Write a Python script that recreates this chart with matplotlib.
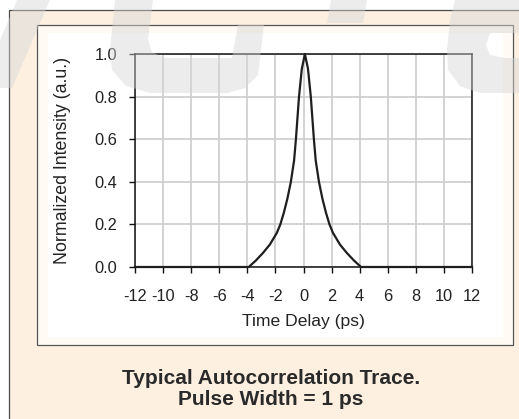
"""
Autocorrelation trace recreation.
"""
import matplotlib
matplotlib.use("Agg")
import matplotlib.pyplot as plt
from matplotlib.patches import Rectangle, Polygon

plt.rcParams["font.family"] = ["Liberation Sans", "DejaVu Sans"]
plt.rcParams["axes.unicode_minus"] = False

# ── Data ──────────────────────────────────────────────────────────────────────
delay_ps = [-12.0, -3.9, -3.4, -2.9, -2.4, -1.9, -1.65, -1.4, -1.15, -0.9,
            -0.67, -0.54, -0.32, -0.12, 0.1, 0.32, 0.52, 0.74, 0.87, 1.1,
            1.35, 1.6, 1.85, 2.1, 2.6, 3.1, 3.6, 4.1, 12.0]
intensity = [0.0, 0.0, 0.03, 0.065, 0.105, 0.16, 0.2, 0.255, 0.32, 0.4,
             0.5, 0.6, 0.8, 0.93, 1.0, 0.93, 0.8, 0.6, 0.5, 0.4,
             0.32, 0.255, 0.2, 0.16, 0.105, 0.065, 0.03, 0.0, 0.0]

x_ticks = list(range(-12, 13, 2))
y_ticks = [0.0, 0.2, 0.4, 0.6, 0.8, 1.0]

title_lines = ["Typical Autocorrelation Trace.", "Pulse Width = 1 ps"]

# ── Figure / frames ───────────────────────────────────────────────────────────
W, H = 519, 419
fig = plt.figure(figsize=(W / 100, H / 100), dpi=100)
fig.patch.set_facecolor("white")


def px_rect(x0, y0, x1, y1, **kw):
    # pixel box (top-left origin) -> figure fraction rectangle
    return Rectangle((x0 / W, 1 - y1 / H), (x1 - x0) / W, (y1 - y0) / H,
                     transform=fig.transFigure, **kw)


fig.patches.append(px_rect(9, 10, 530, 430, facecolor="#fdf0e1",
                           edgecolor="#4a4a4a", linewidth=0.9, zorder=-5))
fig.patches.append(px_rect(37, 25, 513, 345, facecolor="#fffaf3",
                           edgecolor="#555555", linewidth=0.9, zorder=-4))
fig.patches.append(px_rect(48, 33, 503, 337, facecolor="white",
                           edgecolor="none", zorder=-3))

# ── Axes ──────────────────────────────────────────────────────────────────────
ax = fig.add_axes([135 / W, 1 - 267 / H, (472 - 135) / W, (267 - 54) / H])
ax.set_facecolor("none")
ax.plot(delay_ps, intensity, color="#1e1e1e", linewidth=1.6,
        solid_joinstyle="round", clip_on=False, zorder=4)

ax.set_xlim(-12, 12)
ax.set_ylim(0, 1)
ax.set_xticks(x_ticks)
ax.set_yticks(y_ticks)
ax.set_yticklabels([f"{v:.1f}" for v in y_ticks])
ax.grid(True, color="#cccccc", linewidth=1.2)
ax.set_axisbelow(True)
for side in ("left", "bottom", "top", "right"):
    ax.spines[side].set_color("#111111")
    ax.spines[side].set_linewidth(1.1)
ax.tick_params(direction="out", length=4, width=1.0, colors="#111111",
               labelsize=11.8, labelcolor="#222222")
ax.tick_params(axis="x", pad=12)
ax.tick_params(axis="y", pad=9)

ax.set_xlabel("Time Delay (ps)", fontsize=12.6, color="#222222")
ax.set_ylabel("Normalized Intensity (a.u.)", fontsize=12.8, color="#222222")
ax.xaxis.set_label_coords(0.5, -0.22)
ax.yaxis.set_label_coords(-0.19, 0.5)

# ── Caption ───────────────────────────────────────────────────────────────────
fig.text(271 / W, 1 - 378 / H, title_lines[0], ha="center", va="center",
         fontsize=15, fontweight="bold", color="#2a2a2a")
fig.text(271 / W, 1 - 399 / H, title_lines[1], ha="center", va="center",
         fontsize=15, fontweight="bold", color="#2a2a2a")

# ── Faint watermark shapes over everything ────────────────────────────────────
marks = [
    [(17, 0), (50, 0), (12, 88), (0, 88), (0, 40)],
    [(115, 0), (153, 0), (148, 40), (152, 52), (165, 58), (232, 58),
     (238, 25), (264, 25), (258, 75), (245, 88), (228, 93), (150, 93),
     (126, 86), (112, 70), (110, 50)],
    [(331, 0), (367, 0), (363, 23), (327, 23)],
    [(455, 0), (519, 0), (519, 33), (490, 33), (486, 45), (490, 55),
     (505, 58), (519, 58), (519, 93), (480, 93), (460, 86), (448, 70),
     (447, 50), (450, 20)],
]
for pts in marks:
    fig.patches.append(Polygon([(x / W, 1 - y / H) for x, y in pts],
                               closed=True, transform=fig.transFigure,
                               facecolor="#d6d6d6", edgecolor="none",
                               alpha=0.45, zorder=10))

fig.savefig("out.png", dpi=100)
